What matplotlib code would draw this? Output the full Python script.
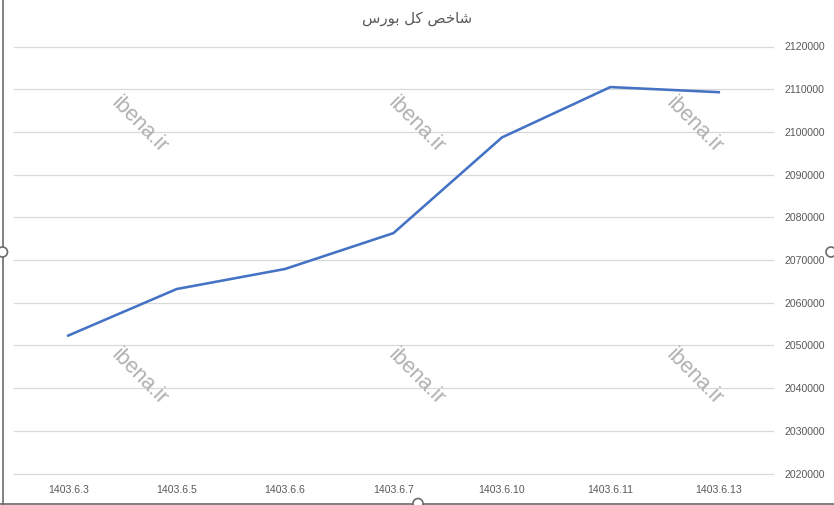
import matplotlib
matplotlib.use('Agg')
import matplotlib.pyplot as plt
from matplotlib.patches import Circle
from matplotlib.lines import Line2D

# data
dates = ['1403.6.3', '1403.6.5', '1403.6.6', '1403.6.7', '1403.6.10', '1403.6.11', '1403.6.13']
index_values = [2052300, 2063200, 2067900, 2076300, 2098700, 2110500, 2109300]
y_ticks = list(range(2020000, 2120001, 10000))

# "شاخص کل بورس" pre-shaped (presentation forms, visual order) since matplotlib has no bidi
title = '\uFEB1\uFEAD\uFEEE\uFE91 \uFEDE\uFB90 \uFEBA\uFEA7\uFE8E\uFEB7'
watermark = 'ibena.ir'

W, H = 834, 505
fig = plt.figure(figsize=(W / 100, H / 100), dpi=100)
ax = fig.add_axes([14 / W, (H - 473.5) / H, (773 - 14) / W, (473.5 - 46.5) / H])

x = list(range(len(dates)))
ax.plot(x, index_values, color='#4472C4', lw=1.85, solid_joinstyle='round', zorder=3)

ax.set_xlim(-0.5, len(dates) - 0.5)
ax.set_ylim(y_ticks[0], y_ticks[-1])
ax.set_xticks(x)
ax.set_xticklabels(dates)
ax.set_yticks(y_ticks)
ax.set_yticklabels([str(v) for v in y_ticks])
ax.yaxis.tick_right()
ax.grid(axis='y', color='#d9d9d9', lw=0.9)
for g in ax.get_ygridlines():
    g.set_clip_on(False)
ax.set_axisbelow(True)
for s in ax.spines.values():
    s.set_visible(False)
ax.tick_params(axis='both', length=0, colors='#595959', labelsize=7.6)
ax.tick_params(axis='y', pad=8.5)
ax.tick_params(axis='x', pad=8)
for lab in ax.get_xticklabels() + ax.get_yticklabels():
    lab.set_family('Liberation Sans')

fig.text(417 / W, 1 - 19 / H, title, ha='center', va='center', fontsize=10.8,
         color='#595959', family='DejaVu Sans')

# watermarks
for cx in (139, 416, 694):
    for cy in (125, 377):
        fig.text(cx / W, 1 - cy / H, watermark, rotation=-45, ha='center', va='center',
                 rotation_mode='anchor', fontsize=15.5, color='#b0b0b0',
                 family='Liberation Sans', zorder=5)

# frame of the chart object (left and bottom edges visible) with handles
edge = '#6b6b6b'
fig.add_artist(Line2D([2.5 / W, 2.5 / W], [0, 1], color=edge, lw=1.2, transform=fig.transFigure))
fig.add_artist(Line2D([0, 1], [1.5 / H, 1.5 / H], color=edge, lw=1.2, transform=fig.transFigure))
for hx, hy in ((2.5, 252), (418, 503.5), (831, 252)):
    fig.add_artist(Circle((hx, H - hy), 5, transform=None, facecolor='white',
                          edgecolor=edge, lw=1.2, zorder=10))

fig.savefig('out.png', dpi=100, facecolor='white')
